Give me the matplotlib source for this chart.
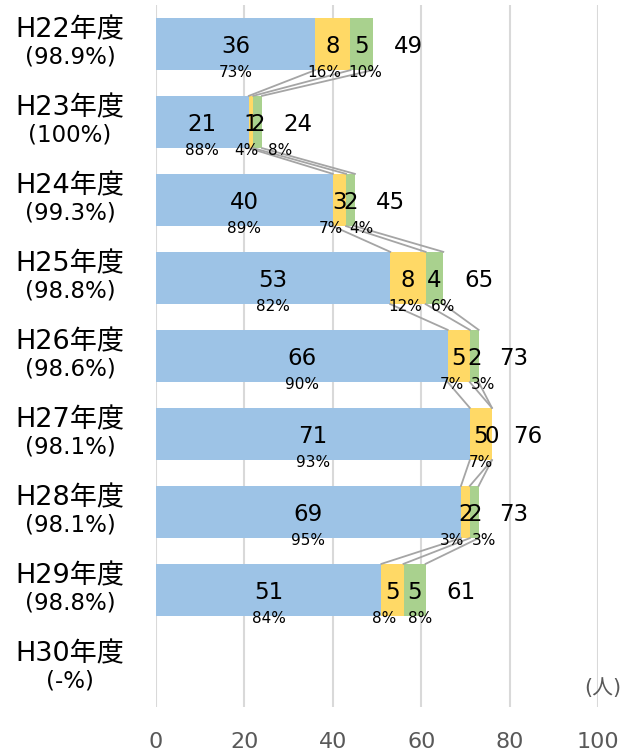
import matplotlib
matplotlib.use('Agg')
import matplotlib.pyplot as plt
import matplotlib.transforms as mtransforms

plt.rcParams['font.family'] = ['DejaVu Sans', 'Noto Sans CJK JP']

# data
years = ['H22年度', 'H23年度', 'H24年度', 'H25年度', 'H26年度',
         'H27年度', 'H28年度', 'H29年度', 'H30年度']
rates = ['(98.9%)', '(100%)', '(99.3%)', '(98.8%)', '(98.6%)',
         '(98.1%)', '(98.1%)', '(98.8%)', '(-%)']
blue_vals = [36, 21, 40, 53, 66, 71, 69, 51]
yellow_vals = [8, 1, 3, 8, 5, 5, 2, 5]
green_vals = [5, 2, 2, 4, 2, 0, 2, 5]
blue_pct = [73, 88, 89, 82, 90, 93, 95, 84]
yellow_pct = [16, 4, 7, 12, 7, 7, 3, 8]
green_pct = [10, 8, 4, 6, 3, 0, 3, 8]
x_ticks = [0, 20, 40, 60, 80, 100]

# layout nudges for the small percent labels (points)
yellow_nudge = [-6, -3, -6, -2, -5, 0, -10, -6]
green_nudge = [3, 16, 8, 6, 6, 0, 7, 4]

colors = ['#9DC3E6', '#FFD966', '#A9D18E']
bar_h = 0.67

fig = plt.figure(figsize=(6.23, 7.53), dpi=100)
ax = fig.add_axes([156 / 623, 1 - 707 / 753, 442 / 623, 702 / 753])

n = len(blue_vals)
ypos = list(range(n))
left_y = [b for b in blue_vals]
left_g = [b + y for b, y in zip(blue_vals, yellow_vals)]
totals = [b + y + g for b, y, g in zip(blue_vals, yellow_vals, green_vals)]

ax.barh(ypos, blue_vals, height=bar_h, color=colors[0], zorder=2)
ax.barh(ypos, yellow_vals, left=left_y, height=bar_h, color=colors[1], zorder=2)
ax.barh(ypos, green_vals, left=left_g, height=bar_h, color=colors[2], zorder=2)

# series lines
for i in range(n - 1):
    for ends in (left_y, left_g, totals):
        ax.plot([ends[i], ends[i + 1]], [i + bar_h / 2, i + 1 - bar_h / 2],
                color='#A5A5A5', lw=1.3, zorder=3)

# labels
for i in range(n):
    segs = [(0, blue_vals[i], blue_pct[i], 0),
            (left_y[i], yellow_vals[i], yellow_pct[i], yellow_nudge[i]),
            (left_g[i], green_vals[i], green_pct[i], green_nudge[i])]
    for start, val, pct, nudge in segs:
        cx = start + val / 2
        ax.text(cx, i + 0.03, str(val), ha='center', va='center',
                fontsize=16.5, zorder=4)
        if pct > 0:
            ax.annotate(f'{pct}%', (cx, i + 0.37), xytext=(nudge, 0),
                        textcoords='offset points', ha='center', va='center',
                        fontsize=11, zorder=4)
    ax.annotate(str(totals[i]), (totals[i], i + 0.03), xytext=(15, 0),
                textcoords='offset points', ha='left', va='center',
                fontsize=16.5, zorder=4)

# category labels
trans = mtransforms.blended_transform_factory(fig.transFigure, ax.transData)
for i, (yr, rt) in enumerate(zip(years, rates)):
    ax.text(70 / 623, i - 0.18, yr, transform=trans, ha='center', va='center',
            fontsize=19.5)
    ax.text(70 / 623, i + 0.17, rt, transform=trans, ha='center', va='center',
            fontsize=16.5)

ax.set_xlim(0, 100)
ax.set_ylim(len(years) - 0.5, -0.5)
ax.set_xticks(x_ticks)
ax.set_yticks([])
ax.tick_params(axis='x', length=0, pad=18, labelsize=16, labelcolor='#595959')
ax.grid(axis='x', color='#D9D9D9', lw=1.5, zorder=0)
for s in ax.spines.values():
    s.set_visible(False)

fig.text(621 / 623, 1 - 688 / 753, '(人)', ha='right', va='center',
         fontsize=15, color='#595959')

fig.savefig('out.png', dpi=100)
